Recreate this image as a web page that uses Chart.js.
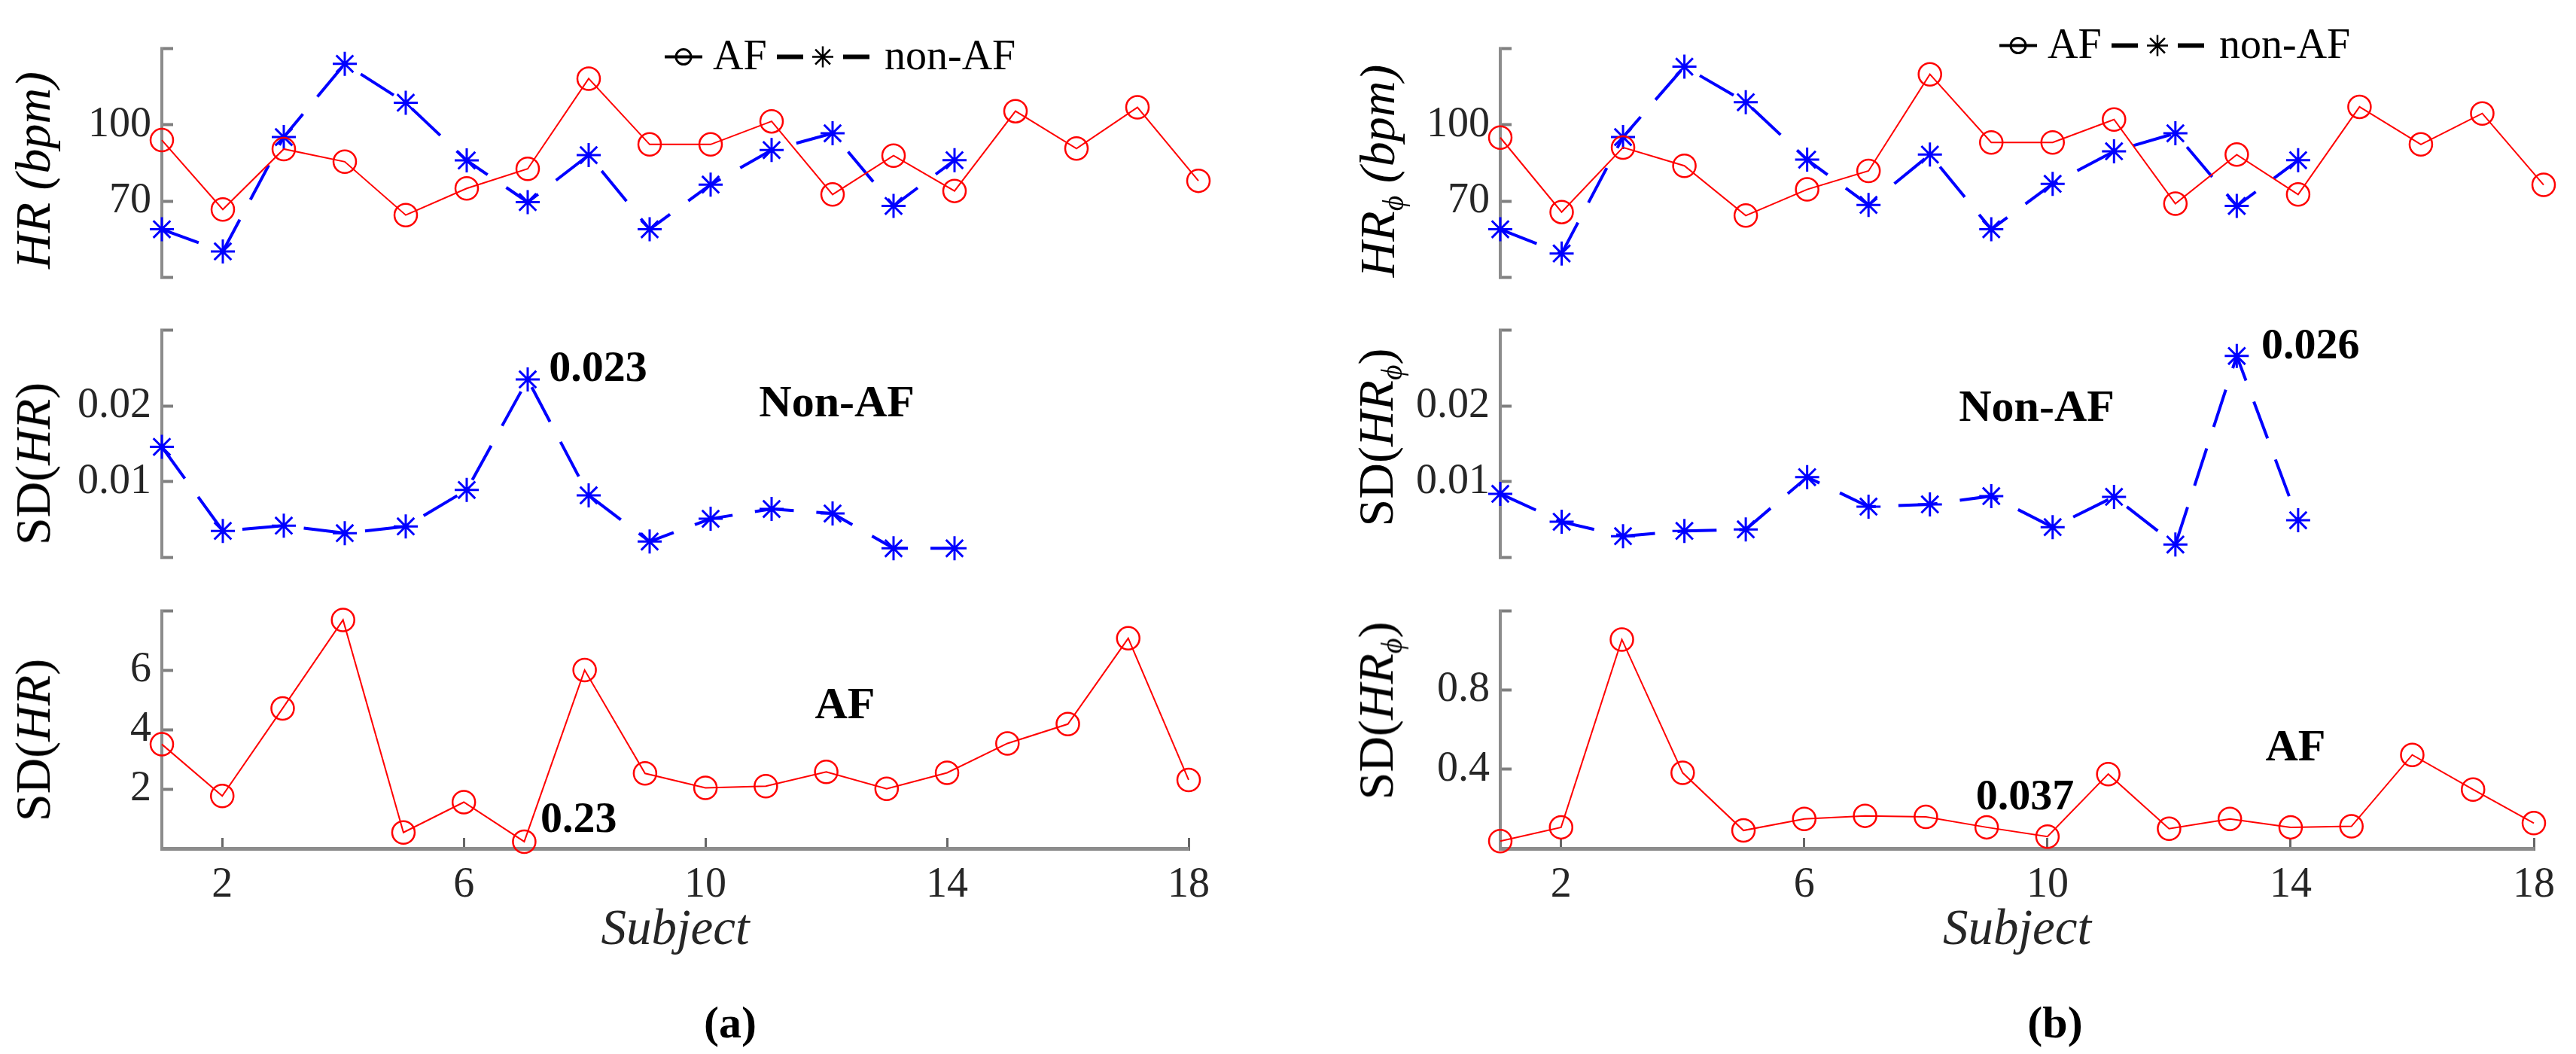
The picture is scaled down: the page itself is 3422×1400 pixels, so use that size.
<!DOCTYPE html>
<html>
<head>
<meta charset="utf-8">
<script src="https://cdn.jsdelivr.net/npm/chart.js@4.4.0/dist/chart.umd.min.js"></script>
<style>
body { margin: 0; background: #fff; }
#fig { position: relative; width: 3422px; height: 1400px; background: #fff; font-family: "Liberation Serif", serif; overflow: hidden; }
#fig canvas { position: absolute; }
.ylab { position: absolute; white-space: nowrap; font-size: 66px; line-height: 1; color: #000; transform: translate(-50%, -50%) rotate(-90deg); }
.ylab sub { font-size: 0.6em; vertical-align: -0.3em; line-height: 0; }
.cap { position: absolute; font-weight: bold; font-size: 60px; line-height: 1; transform: translate(-50%, -50%); }
</style>
</head>
<body>
<div id="fig">
  <canvas id="aTop"></canvas>
  <canvas id="aMid"></canvas>
  <canvas id="aBot"></canvas>
  <canvas id="bTop"></canvas>
  <canvas id="bMid"></canvas>
  <canvas id="bBot"></canvas>

  <div class="ylab" style="left:44px;top:226px"><i>HR (bpm)</i></div>
  <div class="ylab" style="left:44px;top:616px">SD(<i>HR</i>)</div>
  <div class="ylab" style="left:44px;top:983px">SD(<i>HR</i>)</div>
  <div class="ylab" style="left:1830px;top:227px"><i>HR<sub>ϕ</sub> (bpm)</i></div>
  <div class="ylab" style="left:1828px;top:581px">SD(<i>HR<sub>ϕ</sub></i>)</div>
  <div class="ylab" style="left:1828px;top:944px">SD(<i>HR<sub>ϕ</sub></i>)</div>

  <div class="cap" style="left:970px;top:1358px">(a)</div>
  <div class="cap" style="left:2730px;top:1358px">(b)</div>
</div>

<script>
// subjects (x axis)
const subjects = [1, 2, 3, 4, 5, 6, 7, 8, 9, 10, 11, 12, 13, 14, 15, 16, 17, 18];

// (a) HR
const hrAF_a  = [94.0, 66.7, 90.5, 85.5, 64.5, 75.0, 82.7, 118.2, 92.3, 92.3, 101.4, 72.6, 87.9, 74.0, 105.4, 90.7, 106.9, 78.0];
const hrNon_a = [58.9, 50.2, 95.2, 124.0, 108.7, 86.0, 69.6, 88.1, 58.9, 76.5, 90.1, 96.7, 68.1, 86.1];
const sdNon_a = [0.0146, 0.0035, 0.0042, 0.0032, 0.0041, 0.0089, 0.0235, 0.0082, 0.0021, 0.0051, 0.0064, 0.0058, 0.0012, 0.0012];
const sdAF_a  = [3.51, 1.77, 4.72, 7.70, 0.54, 1.56, 0.23, 6.01, 2.53, 2.04, 2.10, 2.58, 2.01, 2.55, 3.54, 4.19, 7.08, 2.31];

// (b) HR_phi
const hrAF_b  = [95.0, 65.7, 91.1, 83.9, 64.3, 74.6, 81.9, 119.9, 93.1, 93.1, 102.1, 69.0, 88.3, 72.6, 107.1, 92.3, 104.5, 76.4];
const hrNon_b = [58.9, 49.4, 95.2, 122.9, 108.9, 86.3, 68.5, 88.3, 58.9, 76.8, 89.6, 96.7, 68.1, 86.1];
const sdNon_b = [0.0084, 0.0047, 0.0028, 0.0035, 0.0037, 0.0106, 0.0067, 0.0070, 0.0081, 0.0040, 0.0080, 0.0017, 0.0266, 0.0049];
const sdAF_b  = [0.037, 0.107, 1.056, 0.382, 0.091, 0.149, 0.165, 0.160, 0.107, 0.060, 0.376, 0.100, 0.149, 0.107, 0.112, 0.473, 0.298, 0.128];

// ticks
const xTicks = [2, 6, 10, 14, 18];
const hrTicks = [40, 70, 100, 130];
const hrTickLabels = ['', '70', '100', ''];
const sdNonTicks = [0, 0.01, 0.02, 0.03];
const sdNonTickLabels = ['', '0.01', '0.02', ''];
const sdAFTicks_a = [0, 2, 4, 6, 8];
const sdAFTickLabels_a = ['', '2', '4', '6', ''];
const sdAFTicks_b = [0, 0.4, 0.8, 1.2];
const sdAFTickLabels_b = ['', '0.4', '0.8', ''];

const SERIF = '"Liberation Serif", "Times New Roman", serif';
const YW = 200, PT = 45, PR = 45, PB = 45, XH = 150;

// plot areas of each column / row
const cols = { a: { left: 215, right: 1592 }, b: { left: 1993, right: 3379 } };
const rows = { top: { top: 47, bottom: 386 }, mid: { top: 421, bottom: 758 }, bot: { top: 794, bottom: 1127 } };

const toPoints = (ys) => ys.map((y, i) => ({ x: subjects[i], y: y }));

const afSet = (ys) => ({
    label: 'AF',
    data: toPoints(ys),
    borderColor: '#ff0000',
    borderWidth: 2,
    pointStyle: 'circle',
    pointRadius: 15,
    pointBorderWidth: 2.5,
    pointBorderColor: '#ff0000',
    pointBackgroundColor: 'rgba(0,0,0,0)',
    tension: 0,
    clip: false
});

const nonSet = (ys) => ({
    label: 'non-AF',
    data: toPoints(ys),
    borderColor: '#0000ff',
    borderWidth: 4,
    borderDash: [52, 30],
    pointStyle: 'star',
    pointRadius: 16,
    pointBorderWidth: 3,
    pointBorderColor: '#0000ff',
    pointBackgroundColor: '#0000ff',
    tension: 0,
    clip: false
});

// bold text notes placed in data units
const notesPlugin = (items) => ({
    id: 'notes',
    afterDatasetsDraw(chart) {
        const ctx = chart.ctx;
        ctx.save();
        ctx.fillStyle = '#000';
        ctx.textBaseline = 'middle';
        items.forEach(n => {
            ctx.font = 'bold ' + n.size + 'px ' + SERIF;
            ctx.textAlign = n.align;
            ctx.fillText(n.text, chart.scales.x.getPixelForValue(n.x), chart.scales.y.getPixelForValue(n.y));
        });
        ctx.restore();
    }
});

// legend: circle with line, then dash-star-dash
const legendPlugin = (dx, dy) => ({
    id: 'hrLegend',
    afterDraw(chart) {
        const ctx = chart.ctx;
        const cx = chart.chartArea.left + dx;
        const cy = chart.chartArea.top + dy;
        ctx.save();
        ctx.strokeStyle = '#000';
        ctx.fillStyle = '#000';
        ctx.lineWidth = 4;
        ctx.beginPath();
        ctx.moveTo(cx - 25, cy); ctx.lineTo(cx + 25, cy);
        ctx.stroke();
        ctx.lineWidth = 3;
        ctx.beginPath();
        ctx.arc(cx, cy, 10, 0, Math.PI * 2);
        ctx.stroke();

        ctx.font = '56px ' + SERIF;
        ctx.textBaseline = 'middle';
        ctx.textAlign = 'left';
        ctx.fillText('AF', cx + 39, cy + 2);

        ctx.lineWidth = 6;
        ctx.beginPath();
        ctx.moveTo(cx + 124, cy); ctx.lineTo(cx + 159, cy);
        ctx.moveTo(cx + 212, cy); ctx.lineTo(cx + 247, cy);
        ctx.stroke();
        // star
        const sx = cx + 185, r = 14;
        ctx.lineWidth = 2.5;
        ctx.beginPath();
        for (let k = 0; k < 4; k++) {
            const a = k * Math.PI / 4;
            ctx.moveTo(sx - r * Math.cos(a), cy - r * Math.sin(a));
            ctx.lineTo(sx + r * Math.cos(a), cy + r * Math.sin(a));
        }
        ctx.stroke();
        ctx.fillText('non-AF', cx + 267, cy + 2);
        ctx.restore();
    }
});

function makePanel(id, col, row, datasets, yMin, yMax, yTicks, yLabels, isBottom, extra) {
    const c = cols[col], r = rows[row];
    const canvas = document.getElementById(id);
    const w = YW + (c.right - c.left) + PR;
    const h = PT + (r.bottom - r.top) + (isBottom ? XH : PB);
    canvas.width = w;
    canvas.height = h;
    canvas.style.left = (c.left - YW) + 'px';
    canvas.style.top = (r.top - PT) + 'px';
    canvas.style.width = w + 'px';
    canvas.style.height = h + 'px';

    new Chart(canvas, {
        type: 'line',
        data: { datasets: datasets },
        options: {
            responsive: false,
            animation: false,
            devicePixelRatio: 1,
            layout: { padding: { left: 0, top: PT, right: PR, bottom: isBottom ? 0 : PB } },
            plugins: { legend: { display: false }, tooltip: { enabled: false } },
            scales: {
                x: {
                    type: 'linear',
                    min: 1,
                    max: 18,
                    display: isBottom,
                    afterBuildTicks: s => { s.ticks = xTicks.map(v => ({ value: v })); },
                    afterFit: s => { if (isBottom) s.height = XH; },
                    grid: { drawOnChartArea: false, tickLength: -14, tickColor: '#666', tickWidth: 3 },
                    border: { color: '#8c8c8c', width: 5 },
                    ticks: { font: { family: SERIF, size: 56 }, color: '#262626', padding: 30, maxRotation: 0, autoSkip: false },
                    title: { display: true, text: 'Subject', font: { family: SERIF, size: 67, style: 'italic' }, color: '#262626', padding: 0 }
                },
                y: {
                    min: yMin,
                    max: yMax,
                    afterBuildTicks: s => { s.ticks = yTicks.map(v => ({ value: v })); },
                    afterFit: s => { s.width = YW; },
                    grid: { drawOnChartArea: false, tickLength: -15, tickColor: '#7f7f7f', tickWidth: 4 },
                    border: { color: '#8c8c8c', width: 4 },
                    ticks: {
                        font: { family: SERIF, size: 56 },
                        color: '#262626',
                        padding: 29,
                        autoSkip: false,
                        callback: (v, i) => yLabels[i]
                    }
                }
            }
        },
        plugins: extra
    });
}

// (a)
makePanel('aTop', 'a', 'top', [afSet(hrAF_a), nonSet(hrNon_a)], 40, 130, hrTicks, hrTickLabels, false,
    [legendPlugin(693, 11)]);
makePanel('aMid', 'a', 'mid', [nonSet(sdNon_a)], 0, 0.03, sdNonTicks, sdNonTickLabels, false,
    [notesPlugin([
        { text: '0.023', x: 7.35, y: 0.0248, align: 'left', size: 58 },
        { text: 'Non-AF', x: 12.07, y: 0.0202, align: 'center', size: 60 }
    ])]);
makePanel('aBot', 'a', 'bot', [afSet(sdAF_a)], 0, 8, sdAFTicks_a, sdAFTickLabels_a, true,
    [notesPlugin([
        { text: 'AF', x: 12.31, y: 4.77, align: 'center', size: 60 },
        { text: '0.23', x: 7.27, y: 0.95, align: 'left', size: 58 }
    ])]);

// (b)
makePanel('bTop', 'b', 'top', [afSet(hrAF_b), nonSet(hrNon_b)], 40, 130, hrTicks, hrTickLabels, false,
    [legendPlugin(688, -4)]);
makePanel('bMid', 'b', 'mid', [nonSet(sdNon_b)], 0, 0.03, sdNonTicks, sdNonTickLabels, false,
    [notesPlugin([
        { text: '0.026', x: 13.40, y: 0.0278, align: 'left', size: 58 },
        { text: 'Non-AF', x: 9.74, y: 0.0196, align: 'center', size: 60 }
    ])]);
makePanel('bBot', 'b', 'bot', [afSet(sdAF_b)], 0, 1.2, sdAFTicks_b, sdAFTickLabels_b, true,
    [notesPlugin([
        { text: 'AF', x: 14.08, y: 0.505, align: 'center', size: 60 },
        { text: '0.037', x: 9.63, y: 0.256, align: 'center', size: 58 }
    ])]);
</script>
</body>
</html>
